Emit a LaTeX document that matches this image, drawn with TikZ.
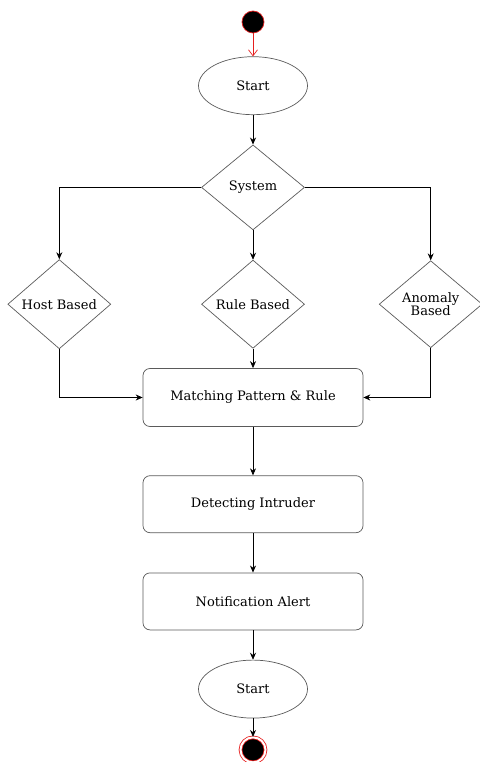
\documentclass[tikz,border=0pt]{standalone}
\usepackage{fontspec}
\setmainfont{DejaVu Serif}
\usepackage{xcolor}
\usetikzlibrary{arrows.meta,positioning,shapes.geometric}
\definecolor{edgegray}{RGB}{90,90,90}
\definecolor{dotred}{RGB}{230,30,30}

\begin{document}
\begin{tikzpicture}[x=1pt,y=1pt,font=\fontsize{13}{14.5}\selectfont,
  box/.style={draw=edgegray,rounded corners=7pt,align=center,minimum width=220pt,minimum height=#1},
  box/.default=58pt,
  oval/.style={draw=edgegray,ellipse,minimum width=109pt,minimum height=58pt},
  choice/.style={draw=edgegray,diamond,align=center,inner sep=1pt,minimum width=103pt,minimum height=87pt},
  >={Stealth[length=7pt,width=6pt]}, line width=0.7pt]
  \useasboundingbox (0,0) rectangle (479,-762);
  \node[circle,draw=dotred,fill=black,minimum size=22pt,inner sep=0pt] (init) at (253,-22) {};
  \node[oval,below=23pt of init] (start) {Start};
  \node[choice,minimum height=85pt,below=29.5pt of start] (sys) {System};
  \node[choice,below=29.5pt of sys] (rule) {Rule Based};
  \node[choice,left=90pt of rule] (host) {Host Based};
  \node[choice,right=74pt of rule] (anom) {Anomaly\\[-2pt]Based};
  \node[box,below=19.5pt of rule] (match) {Matching Pattern \& Rule};
  \node[box=57pt,below=48.5pt of match] (detect) {Detecting Intruder};
  \node[box=57pt,below=39.5pt of detect] (notif) {Notification Alert};
  \node[oval,below=29.5pt of notif] (end) {Start};
  \node[circle,draw=dotred,fill=black,double=white,double distance=2pt,line width=0.8pt,
    minimum size=25pt,inner sep=0pt,below=18.5pt of end] (final) {};
  \draw[->,>={Straight Barb[length=6pt,width=9pt]},dotred] (init) -- (start);
  \draw[->] (start) -- (sys);
  \draw[->] (sys.west) -| (host.north);
  \draw[->] (sys) -- (rule);
  \draw[->] (sys.east) -| (anom.north);
  \draw[->] (host.south) |- (match.west);
  \draw[->] (rule) -- (match);
  \draw[->] (anom.south) |- (match.east);
  \draw[->] (match) -- (detect);
  \draw[->] (detect) -- (notif);
  \draw[->] (notif) -- (end);
  \draw[->] (end) -- (final);
\end{tikzpicture}
\end{document}
